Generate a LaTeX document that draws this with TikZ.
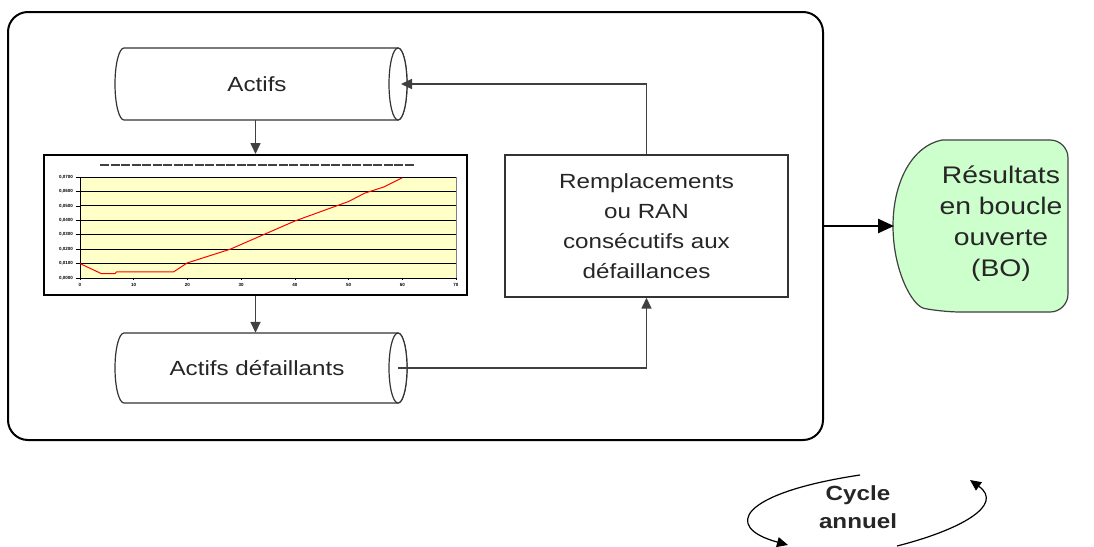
\documentclass[tikz,border=0pt]{standalone}
\usepackage{fontspec}
\setmainfont[FakeStretch=1.18]{Liberation Sans}
\newfontfamily\chartfont{Liberation Sans}
\usetikzlibrary{arrows.meta}
\definecolor{lgreen}{HTML}{CCFFCC}
\definecolor{lyellow}{HTML}{FFFFC8}
\definecolor{cline}{HTML}{404040}
\begin{document}
\begin{tikzpicture}[x=1pt,y=-1pt,
  conn/.style={draw=cline, line width=1.6pt},
  arr/.style={conn,-{Triangle[length=11pt,width=10pt]}},
  lbl/.style={font=\fontsize{20.5}{30}\selectfont, align=center, text=black!85},
  cylline/.style={draw=black!80, line width=1.2pt, fill=white},
  tinylbl/.style={font=\chartfont\fontsize{4.5}{5}\selectfont\bfseries, inner sep=0.5pt}
]
\useasboundingbox (0,0) rectangle (1094,546);

% outer frame
\node[draw, line width=2pt, rounded corners=20pt, minimum width=815pt, minimum height=428pt, inner sep=0] (outer) at (415.5,226) {};

% cylinder Actifs
\draw[cylline] (124,48) -- (398,48) arc[start angle=270, end angle=450, x radius=9, y radius=36]
  -- (124,120) arc[start angle=90, end angle=270, x radius=9, y radius=36] -- cycle;
\draw[cylline] (398,84) ellipse[x radius=9, y radius=36];
\node[lbl, minimum width=270pt, minimum height=72pt, inner sep=0] (actifs) at (257,84) {Actifs};
\coordinate (ain) at (401,84);

% cylinder Actifs defaillants
\draw[cylline] (124,333) -- (398,333) arc[start angle=270, end angle=450, x radius=9, y radius=35]
  -- (124,403) arc[start angle=90, end angle=270, x radius=9, y radius=35] -- cycle;
\draw[cylline] (398,368) ellipse[x radius=9, y radius=35];
\node[lbl, minimum width=270pt, minimum height=70pt, inner sep=0] (defa) at (257,368) {Actifs défaillants};
\coordinate (dout) at (398,368);

% chart
\node[draw, line width=2pt, fill=white, minimum width=423pt, minimum height=140pt, inner sep=0] (chart) at (255.5,225) {};
\draw[black!75, line width=2.2pt, dash pattern=on 9pt off 1.5pt] (100,165) -- (415,165);
\begin{scope}[shift={(80,278)}, x=5.371pt, y=1.443pt]
  \fill[lyellow] (0,0) rectangle (70,70);
  \draw[gray, line width=0.6pt] (0,0) rectangle (70,70);
  \foreach \v in {10,20,...,70} \draw[black, line width=0.9pt] (0,\v) -- (70,\v);
  \draw[black, line width=0.9pt] (0,70) -- (0,0) -- (70,0);
  \foreach \xx in {0,10,...,70} {
    \draw[black, line width=0.6pt] (\xx,0) -- (\xx,-1.5);
    \node[tinylbl] at (\xx,-4.5) {\xx};
  }
  \foreach \v/\t in {0/{0,0000},10/{0,0100},20/{0,0200},30/{0,0300},40/{0,0400},50/{0,0500},60/{0,0600},70/{0,0700}} {
    \draw[black, line width=0.6pt] (-0.8,\v) -- (0,\v);
    \node[tinylbl, anchor=east] at (-1.2,\v) {\t};
  }
  \draw[red, line width=1pt] plot coordinates {(0,10) (4,3) (6.5,3) (6.8,4.2) (17.4,4.2) (20,10.5) (28,20) (40,39.5) (50,53) (53,58.8) (56.5,63) (60,69.5)};
\end{scope}

% Remplacements box
\node[draw=black!80, line width=1.4pt, minimum width=283pt, minimum height=142pt, inner sep=0, lbl] (rem) at (646.5,226) {Remplacements\\ou RAN\\consécutifs aux\\défaillances};

% green result shape
\draw[fill=lgreen, draw=black!75, line width=1.2pt] (942,140) [rounded corners=18pt] -- (1068,140) -- (1068,312) -- (942,312) [sharp corners]
  .. controls (912,306) and (893,270) .. (893,226) .. controls (893,182) and (912,146) .. (942,140) -- cycle;
\node[align=center, text=black!85, font=\fontsize{24}{31}\selectfont] (res) at (1001,224) {Résultats\\en boucle\\ouverte\\(BO)};
\coordinate (gw) at (894,226);

% connectors
\draw[arr] (actifs.south -| chart.north) -- (chart.north);
\draw[arr] (chart.south) -- (chart.south |- defa.north);
\draw[arr] (rem.north) |- (ain);
\draw[arr] (dout) -| (rem.south);
\draw[line width=2.5pt, -{Triangle[length=16pt,width=14pt]}] (outer.east) -- (gw);

% cycle annuel
\node[font=\fontsize{20.5}{28}\selectfont\bfseries, align=center, text=black!85] (cyc) at (858,507) {Cycle\\annuel};
\draw[line width=1.2pt, -{Triangle[length=11pt,width=10pt]}] (860,475) .. controls (740,493) and (722,527) .. (788,545);
\draw[line width=1.2pt, -{Triangle[length=11pt,width=10pt]}] (897,546) .. controls (960,530) and (1005,505) .. (970,480);
\end{tikzpicture}
\end{document}
